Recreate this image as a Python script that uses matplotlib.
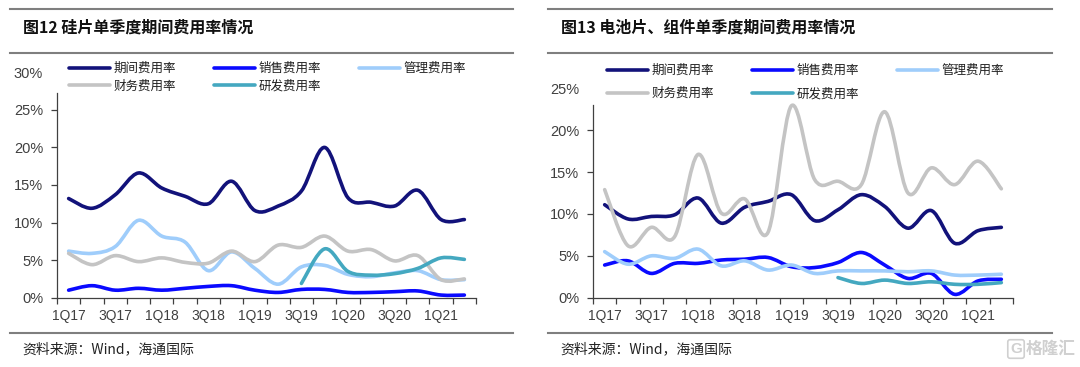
import matplotlib
matplotlib.use('Agg')
import matplotlib.pyplot as plt
from matplotlib.path import Path
from matplotlib.patches import PathPatch
from matplotlib.lines import Line2D
from matplotlib.ticker import FixedLocator, FuncFormatter

plt.rcParams['font.family'] = ['Liberation Sans', 'Noto Sans CJK SC', 'DejaVu Sans']
CJK = ['Noto Sans CJK SC', 'DejaVu Sans']

# ---------------- data ----------------
quarters = ['1Q17', '2Q17', '3Q17', '4Q17', '1Q18', '2Q18', '3Q18', '4Q18', '1Q19',
            '2Q19', '3Q19', '4Q19', '1Q20', '2Q20', '3Q20', '4Q20', '1Q21', '2Q21']
series_names = ['期间费用率', '销售费用率', '管理费用率', '财务费用率', '研发费用率']

# Fig 12: silicon wafers (%)
wafer_period = [13.2, 11.9, 13.7, 16.6, 14.6, 13.5, 12.5, 15.5, 11.6, 12.2, 14.2, 20.0, 13.3, 12.7, 12.2, 14.3, 10.4, 10.4]
wafer_sales = [1.0, 1.6, 1.0, 1.25, 1.0, 1.25, 1.5, 1.6, 1.0, 0.7, 1.1, 1.1, 0.7, 0.7, 0.8, 0.9, 0.35, 0.35]
wafer_admin = [6.2, 5.9, 6.8, 10.3, 8.2, 7.4, 3.6, 6.1, 3.9, 1.8, 4.1, 4.3, 3.1, 2.8, 3.3, 3.6, 2.4, 2.4]
wafer_finance = [5.9, 4.4, 5.6, 4.8, 5.3, 4.7, 4.6, 6.2, 4.8, 7.0, 6.7, 8.2, 6.2, 6.4, 4.9, 5.6, 2.4, 2.5]
wafer_rd = [None] * 10 + [1.9, 6.5, 3.5, 3.0, 3.2, 3.9, 5.3, 5.1]

# Fig 13: cells & modules (%)
cell_period = [11.1, 9.4, 9.7, 9.9, 11.9, 8.9, 10.8, 11.5, 12.3, 9.2, 10.5, 12.3, 10.9, 8.3, 10.4, 6.5, 8.0, 8.4]
cell_sales = [3.9, 4.4, 2.9, 4.1, 4.1, 4.5, 4.6, 4.8, 3.7, 3.6, 4.2, 5.4, 3.9, 2.3, 2.9, 0.4, 2.0, 2.2]
cell_admin = [5.5, 4.0, 5.0, 4.7, 5.8, 3.8, 4.4, 3.3, 3.9, 2.9, 3.2, 3.2, 3.2, 3.1, 3.2, 2.7, 2.7, 2.8]
cell_finance = [12.9, 6.2, 8.4, 7.3, 17.1, 10.1, 11.8, 7.8, 22.9, 14.1, 13.9, 13.5, 22.2, 12.5, 15.5, 13.5, 16.3, 13.0]
cell_rd = [None] * 10 + [2.4, 1.7, 2.1, 1.7, 1.9, 1.6, 1.6, 1.8]

tick_labels = quarters[::2]

colors = ['#12127a', '#0a0aff', '#9fcdfb', '#c4c4c4', '#44a8c0']

W, H = 1080, 367
fig = plt.figure(figsize=(W / 100, H / 100), dpi=100)


def fx(px):
    return px / W


def fy(py):
    return 1 - py / H


def smooth_path(xs, ys):
    pts = [(x, y) for x, y in zip(xs, ys) if y is not None]
    n = len(pts)
    verts = [pts[0]]
    codes = [Path.MOVETO]
    for i in range(n - 1):
        p0 = pts[i - 1] if i > 0 else pts[i]
        p1 = pts[i]
        p2 = pts[i + 1]
        p3 = pts[i + 2] if i + 2 < n else pts[i + 1]
        c1 = (p1[0] + (p2[0] - p0[0]) / 6, p1[1] + (p2[1] - p0[1]) / 6)
        c2 = (p2[0] - (p3[0] - p1[0]) / 6, p2[1] - (p3[1] - p1[1]) / 6)
        verts += [c1, c2, p2]
        codes += [Path.CURVE4] * 3
    return Path(verts, codes)


def draw_panel(ax, series, ymax, spine_top, leg_anchor, leg_spacing):
    xs = list(range(len(quarters)))
    for vals, col in zip(series, colors):
        patch = PathPatch(smooth_path(xs, vals), facecolor='none', edgecolor=col,
                          lw=2.6, capstyle='round', joinstyle='round')
        ax.add_patch(patch)
    ax.set_xlim(-0.5, len(quarters) - 0.5)
    ax.set_ylim(0, ymax)
    for s in ['top', 'right']:
        ax.spines[s].set_visible(False)
    for s in ['left', 'bottom']:
        ax.spines[s].set_color('#404040')
        ax.spines[s].set_linewidth(0.9)
    ax.spines['left'].set_bounds(0, spine_top)
    ax.set_yticks(list(range(0, ymax + 1, 5)))
    ax.yaxis.set_major_formatter(FuncFormatter(lambda v, p: f'{v:.0f}%'))
    ax.tick_params(axis='y', direction='out', length=4, width=0.9, color='#404040',
                   labelsize=10.5, labelcolor='#404040', pad=6)
    ax.get_yticklines()[-2].set_visible(False)
    ax.xaxis.set_major_locator(FixedLocator(xs[::2]))
    ax.set_xticklabels(tick_labels)
    ax.xaxis.set_minor_locator(FixedLocator([i - 0.5 for i in range(len(quarters) + 1)]))
    ax.tick_params(axis='x', which='major', length=0, labelsize=10, labelcolor='#404040', pad=8)
    ax.tick_params(axis='x', which='minor', direction='out', length=4, width=0.9, color='#404040')
    handles = [Line2D([], [], color=c, lw=2.6, solid_capstyle='round') for c in colors]
    order = [0, 3, 1, 4, 2]
    leg = ax.legend([handles[i] for i in order], [series_names[i] for i in order],
                    ncol=3, loc='upper left', bbox_to_anchor=leg_anchor,
                    bbox_transform=fig.transFigure, frameon=False,
                    prop={'family': CJK, 'size': 9}, handlelength=3.28,
                    handletextpad=0.25, columnspacing=3.07, labelspacing=leg_spacing,
                    borderpad=0, borderaxespad=0)
    for t in leg.get_texts():
        t.set_color('#202020')


ax1 = fig.add_axes([fx(57), fy(297.7), fx(476 - 57), (297.7 - 72.3) / H])
draw_panel(ax1, [wafer_period, wafer_sales, wafer_admin, wafer_finance, wafer_rd],
           30, 27.3, (fx(69), fy(62)), 0.36)

ax2 = fig.add_axes([fx(593), fy(297.7), fx(1013 - 593), (297.7 - 88.3) / H])
draw_panel(ax2, [cell_period, cell_sales, cell_admin, cell_finance, cell_rd],
           25, 23.0, (fx(607), fy(64)), 0.82)

# header / footer rules
for x0, x1 in [(10, 513), (548, 1052)]:
    for y in (9, 53, 333):
        fig.add_artist(Line2D([fx(x0), fx(x1)], [fy(y), fy(y)], transform=fig.transFigure,
                              color='#7f7f7f', lw=1.5))

fig.text(fx(23), fy(28), '图12 硅片单季度期间费用率情况', family=CJK, fontsize=11.5,
         fontweight='bold', va='center', ha='left', color='#111111')
fig.text(fx(561), fy(28), '图13 电池片、组件单季度期间费用率情况', family=CJK, fontsize=11.5,
         fontweight='bold', va='center', ha='left', color='#111111')

fig.text(fx(22), fy(349), '资料来源：Wind，海通国际', family=CJK, fontsize=10,
         va='center', ha='left', color='#222222')
fig.text(fx(560), fy(349), '资料来源：Wind，海通国际', family=CJK, fontsize=10,
         va='center', ha='left', color='#222222')

fig.text(fx(1076), fy(349), '格隆汇', family=CJK, fontsize=12, fontweight='bold',
         va='center', ha='right', color='#d0d0d0')
fig.text(fx(1016), fy(349), 'G', family=['Liberation Sans'], fontsize=11, fontweight='bold',
         va='center', ha='center', color='#d0d0d0',
         bbox=dict(boxstyle='round,pad=0.15', fc='none', ec='#d0d0d0', lw=1.2))

fig.savefig('out.png', dpi=100, facecolor='white')
